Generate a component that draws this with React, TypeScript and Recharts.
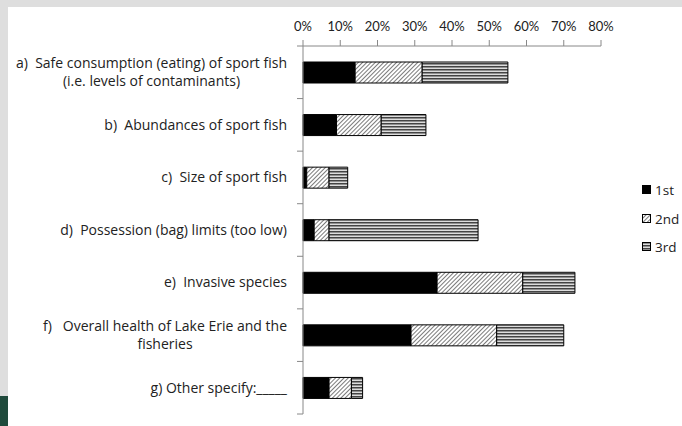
import React from 'react';
import { BarChart, Bar, XAxis, YAxis } from 'recharts';

const categories = [
  'a)  Safe consumption (eating) of sport fish\n(i.e. levels of contaminants)',
  'b)  Abundances of sport fish',
  'c)  Size of sport fish',
  'd)  Possession (bag) limits (too low)',
  'e)  Invasive species',
  'f)   Overall health of Lake Erie and the\nfisheries',
  'g) Other specify:_____',
];
const firstVals = [14, 9, 1, 3, 36, 29, 7];
const secondVals = [18, 12, 6, 4, 23, 23, 6];
const thirdVals = [23, 12, 5, 40, 14, 18, 3];
const xTicks = [0, 10, 20, 30, 40, 50, 60, 70, 80];
const seriesNames = ['1st', '2nd', '3rd'];

const data = categories.map((c, i) => ({
  name: c,
  first: firstVals[i],
  second: secondVals[i],
  third: thirdVals[i],
}));

const W = 682;
const H = 426;
const TOP = 46;
const BOTTOM = 12;
const LEFT_W = 303;
const RIGHT = 81;
const FONT = 'Lato, "Open Sans", sans-serif';
const LFONT = '"Open Sans", sans-serif';
const FS = 13;
const LFS = 14;

let ctx: CanvasRenderingContext2D | null = null;
function measure(t: string): number {
  if (!ctx) {
    const c = document.createElement('canvas');
    ctx = c.getContext('2d');
  }
  if (!ctx) return t.length * 6.7;
  ctx.font = `${LFS}px ${LFONT}`;
  return ctx.measureText(t).width;
}

const YTick = (props: any) => {
  const { x, y, payload, index } = props;
  const band = (H - TOP - BOTTOM) / categories.length;
  const lines: string[] = String(payload.value).split('\n');
  const maxW = Math.max(...lines.map(measure));
  const cx = x - 16 - maxW / 2;
  const lh = 18;
  const startY = y - ((lines.length - 1) * lh) / 2;
  return (
    <g>
      <line x1={x - 6} x2={x} y1={y - band / 2} y2={y - band / 2} stroke="#888" />
      {index === categories.length - 1 && (
        <line x1={x - 6} x2={x} y1={y + band / 2} y2={y + band / 2} stroke="#888" />
      )}
      {lines.map((l, i) => (
        <text
          key={i}
          x={cx}
          y={startY + i * lh}
          dy="0.35em"
          textAnchor="middle"
          fill="#222"
          fontSize={LFS}
          fontFamily={LFONT}
          style={{ whiteSpace: 'pre' }}
        >
          {l}
        </text>
      ))}
    </g>
  );
};

const fills = ['#000', 'url(#diagHatch)', 'url(#horizHatch)'];

const LegendBox = () => (
  <div style={{ position: 'absolute', left: 642, top: 176, fontFamily: LFONT, fontSize: 13.5, color: '#222' }}>
    {seriesNames.map((n, i) => (
      <div key={n} style={{ display: 'flex', alignItems: 'center', height: 28.5 }}>
        <svg width={10} height={10} style={{ marginRight: 3 }}>
          <rect x={0.5} y={0.5} width={8} height={8} fill={fills[i]} stroke="#000" />
        </svg>
        <span>{n}</span>
      </div>
    ))}
  </div>
);

export default function App() {
  return (
    <div style={{ position: 'absolute', left: 0, top: 0, width: W, height: H, background: '#dedede', overflow: 'hidden' }}>
      <div style={{ position: 'absolute', left: 8, top: 7, width: W - 8, height: H - 7, background: '#fff' }} />
      <div style={{ position: 'absolute', left: 0, top: 396, width: 8, height: 30, background: '#1f4a3c' }} />
      <div style={{ position: 'absolute', left: 0, top: 0 }}>
        <BarChart
          width={W}
          height={H}
          data={data}
          layout="vertical"
          margin={{ top: 0, right: RIGHT, bottom: BOTTOM, left: 0 }}
          barSize={21}
        >
          <defs>
            <pattern id="diagHatch" width="3" height="3" patternUnits="userSpaceOnUse" patternTransform="rotate(45)">
              <rect width="3" height="3" fill="#fff" />
              <line x1="0" y1="0" x2="0" y2="3" stroke="#222" strokeWidth="1.2" />
            </pattern>
            <pattern id="horizHatch" width="3" height="3" patternUnits="userSpaceOnUse">
              <rect width="3" height="3" fill="#ddd" />
              <rect y="0" width="3" height="1.5" fill="#444" />
            </pattern>
          </defs>
          <XAxis
            type="number"
            orientation="top"
            domain={[0, 80]}
            ticks={xTicks}
            height={TOP}
            tickFormatter={(v: number) => `${v}%`}
            axisLine={{ stroke: '#888' }}
            tickLine={{ stroke: '#888' }}
            tickMargin={9}
            tick={{ fill: '#222', fontSize: FS, fontFamily: FONT }}
          />
          <YAxis
            type="category"
            dataKey="name"
            width={LEFT_W}
            axisLine={{ stroke: '#888' }}
            tickLine={false}
            tickSize={0}
            tickMargin={0}
            interval={0}
            tick={<YTick />}
          />
          <Bar dataKey="first" name={seriesNames[0]} stackId="s" fill={fills[0]} stroke="#000" strokeWidth={1} isAnimationActive={false} />
          <Bar dataKey="second" name={seriesNames[1]} stackId="s" fill={fills[1]} stroke="#000" strokeWidth={1} isAnimationActive={false} />
          <Bar dataKey="third" name={seriesNames[2]} stackId="s" fill={fills[2]} stroke="#000" strokeWidth={1} isAnimationActive={false} />
        </BarChart>
      </div>
      <LegendBox />
    </div>
  );
}
